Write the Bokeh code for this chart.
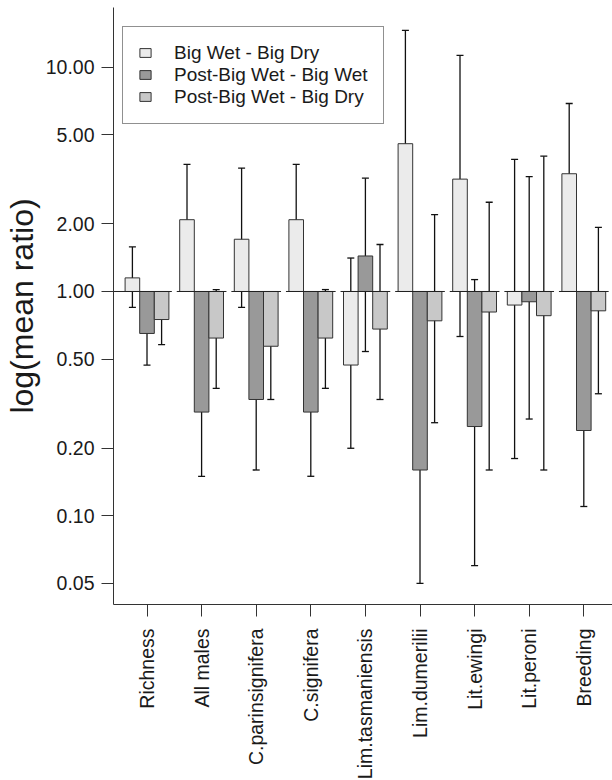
import math
from bokeh.plotting import figure
from bokeh.models import (ColumnDataSource, Range1d, FixedTicker, PrintfTickFormatter,
                          Whisker, TeeHead, Legend, LegendItem)
from bokeh.embed import file_html
from bokeh.resources import INLINE

# ---------------- data ----------------
categories = ["Richness", "All males", "C.parinsignifera", "C.signifera",
              "Lim.tasmaniensis", "Lim.dumerilii", "Lit.ewingi", "Lit.peroni", "Breeding"]
series_names = ["Big Wet - Big Dry", "Post-Big Wet - Big Wet", "Post-Big Wet - Big Dry"]

bw_bd = [1.15, 2.09, 1.71, 2.09, 0.47, 4.56, 3.17, 0.87, 3.35]
bw_bd_lo = [0.85, 1.20, 0.85, 1.20, 0.20, 1.46, 0.63, 0.18, 1.72]
bw_bd_hi = [1.58, 3.69, 3.55, 3.69, 1.41, 14.6, 11.3, 3.88, 6.89]

pbw_bw = [0.65, 0.29, 0.33, 0.29, 1.44, 0.16, 0.25, 0.90, 0.24]
pbw_bw_lo = [0.47, 0.15, 0.16, 0.15, 0.54, 0.05, 0.06, 0.27, 0.11]
pbw_bw_hi = [0.87, 0.56, 0.68, 0.56, 3.20, 0.49, 1.13, 3.25, 0.52]

pbw_bd = [0.75, 0.62, 0.57, 0.62, 0.68, 0.74, 0.81, 0.78, 0.82]
pbw_bd_lo = [0.58, 0.37, 0.33, 0.37, 0.33, 0.26, 0.16, 0.16, 0.35]
pbw_bd_hi = [0.95, 1.02, 0.98, 1.02, 1.62, 2.20, 2.50, 4.01, 1.93]

y_ticks = [0.05, 0.10, 0.20, 0.50, 1.00, 2.00, 5.00, 10.00]
baseline = 1.0

# ---------------- layout / style ----------------
FONT = "Liberation Sans"
TXT = "#1a1a1a"
AX = "#333333"
FRAME_W, FRAME_H = 503, 597
GROUP_PX = 54.6
BAR_W = 0.2674
X_START = -0.6136
X_END = X_START + FRAME_W / GROUP_PX
Y_START, Y_END = 0.04022, 18.46
colors = ["#EBEBEB", "#999999", "#C8C8C8"]

n = len(categories)
idx = list(range(n))

p = figure(frame_width=FRAME_W, frame_height=FRAME_H,
           x_range=Range1d(X_START, X_END), y_range=Range1d(Y_START, Y_END),
           y_axis_type="log", output_backend="svg", toolbar_location=None,
           min_border_left=108, min_border_top=7, min_border_right=1, min_border_bottom=0)
p.background_fill_color = "white"
p.border_fill_color = "white"
p.outline_line_color = None
p.xgrid.visible = False
p.ygrid.visible = False

series = [(bw_bd, bw_bd_lo, bw_bd_hi), (pbw_bw, pbw_bw_lo, pbw_bw_hi), (pbw_bd, pbw_bd_lo, pbw_bd_hi)]
offsets = [-BAR_W, 0.0, BAR_W]
renderers = []
for k, (vals, lo, hi) in enumerate(series):
    xs = [i + offsets[k] for i in idx]
    src = ColumnDataSource(dict(x=xs, top=vals, lo=lo, hi=hi))
    r = p.vbar(x="x", width=BAR_W, bottom=baseline, top="top", source=src,
               fill_color=colors[k], line_color=AX, line_width=1)
    renderers.append(r)
    w = Whisker(base="x", upper="hi", lower="lo", source=src, dimension="height",
                line_color="#111111", line_width=1.3,
                upper_head=TeeHead(size=7, line_color="#111111", line_width=1.3),
                lower_head=TeeHead(size=7, line_color="#111111", line_width=1.3))
    p.add_layout(w)

# baseline at 1.0, one segment per group
seg_x0 = [X_START if i == 0 else i - 0.455 for i in idx]
seg_x1 = [i + 0.455 for i in idx]
p.segment(x0=seg_x0, y0=[baseline] * n, x1=seg_x1, y1=[baseline] * n,
          line_color="#222222", line_width=1)

# axes
p.xaxis.ticker = FixedTicker(ticks=idx, minor_ticks=[])
p.xaxis.major_label_overrides = {i: c for i, c in enumerate(categories)}
p.xaxis.major_label_orientation = math.pi / 2
p.xaxis.major_label_standoff = 12
p.xaxis.major_label_text_font_size = "19.5px"

p.yaxis.ticker = FixedTicker(ticks=y_ticks, minor_ticks=[])
p.yaxis.formatter = PrintfTickFormatter(format="%.2f")
p.yaxis.major_label_standoff = 7
p.yaxis.major_label_text_font_size = "19.5px"
p.yaxis.axis_label = "log(mean ratio)"
p.yaxis.axis_label_standoff = 3
p.yaxis.axis_label_text_font = FONT
p.yaxis.axis_label_text_font_size = "32px"
p.yaxis.axis_label_text_font_style = "normal"
p.yaxis.axis_label_text_color = TXT

for ax in (p.xaxis, p.yaxis):
    ax.axis_line_color = AX
    ax.axis_line_width = 1
    ax.major_tick_line_color = AX
    ax.major_tick_out = 12
    ax.major_tick_in = 0
    ax.minor_tick_line_color = None
    ax.major_label_text_font = FONT
    ax.major_label_text_color = TXT

# legend
legend = Legend(items=[LegendItem(label=series_names[k], renderers=[renderers[k]]) for k in range(3)],
                location=(9.0, 480.5), padding=15, spacing=0, margin=0,
                glyph_width=14, glyph_height=11, label_standoff=22, label_height=20,
                label_text_font=FONT, label_text_font_size="19px", label_text_color=TXT,
                border_line_color="#222222", border_line_width=1,
                background_fill_color="white", background_fill_alpha=1)
p.add_layout(legend)

open("out.html", "w").write(file_html(p, INLINE))
